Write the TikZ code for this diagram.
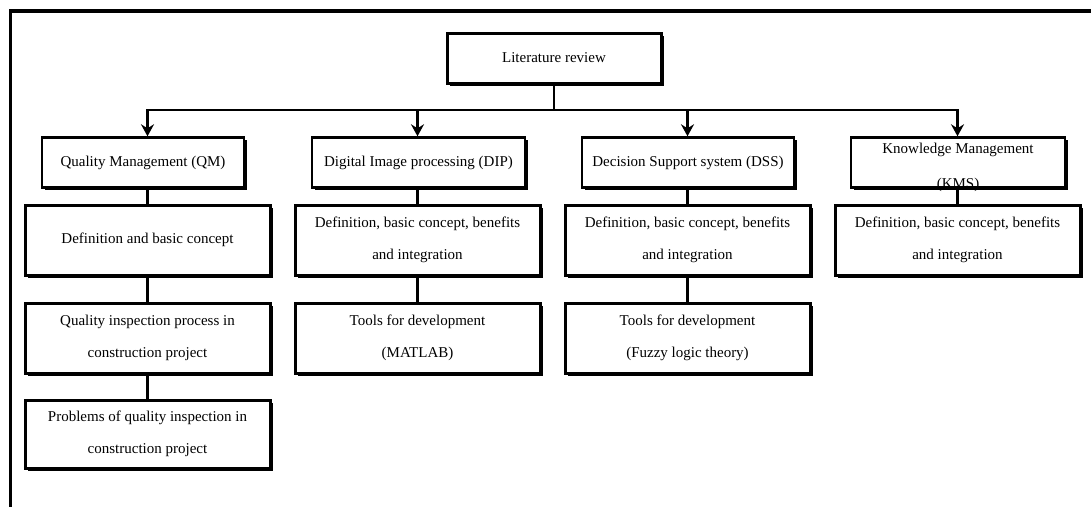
\documentclass[tikz,border=0pt]{standalone}
\usepackage{fontspec}
\setmainfont{Liberation Serif}
\usetikzlibrary{arrows.meta,shadows}
\begin{document}
\begin{tikzpicture}[x=1pt,y=-1pt,
  txt/.style={inner sep=0pt, align=center, font=\fontsize{15pt}{32pt}\selectfont},
  box/.style={txt, draw, line width=3pt, fill=white,
    drop shadow={shadow xshift=2.6pt, shadow yshift=-2.6pt, opacity=1, fill=black}},
  headbox/.style={box, line width=2.4pt, minimum height=50pt},
  subbox/.style={box, minimum width=245pt, minimum height=70pt},
  link/.style={line width=2.3pt},
  arr/.style={link, -{Stealth[length=12pt,width=13pt,inset=4pt]}}
]
\useasboundingbox (0,0) rectangle (1091,507);
% frame (only top and left edges visible)
\draw[line width=3.8pt] (1091,11) -| (10.5,507);

% nodes
\node[box, minimum width=214pt, minimum height=50pt] (lit) at (554,58) {Literature review};

\node[headbox, minimum width=202pt] (qm)  at (143,162.5)   {Quality Management (QM)};
\node[headbox, minimum width=213pt] (dip) at (418.5,162.5) {Digital Image processing (DIP)};
\node[headbox, minimum width=212pt] (dss) at (688,162.5)   {Decision Support system (DSS)};
\node[headbox, minimum width=214pt] (kms) at (958,162.5)   {};
\node[txt, font=\fontsize{15pt}{35pt}\selectfont] (kmstext) at (958,167) {Knowledge Management\\(KMS)};

\node[subbox] (qmdef)  at (147.5,240) {Definition and basic concept};
\node[subbox] (dipdef) at (417.5,240) {Definition, basic concept, benefits\\and integration};
\node[subbox] (dssdef) at (687.5,240) {Definition, basic concept, benefits\\and integration};
\node[subbox] (kmsdef) at (957.5,240) {Definition, basic concept, benefits\\and integration};

\node[subbox] (qmproc)  at (147.5,338) {Quality inspection process in\\construction project};
\node[subbox] (diptool) at (417.5,338) {Tools for development\\(MATLAB)};
\node[subbox] (dsstool) at (687.5,338) {Tools for development\\(Fuzzy logic theory)};

\node[subbox, minimum height=68pt] (qmprob) at (147.5,434) {Problems of quality inspection in\\construction project};

% connectors
\coordinate (hub) at (554,110);
\draw[link] (lit.south) -- (hub);
\draw[arr] (hub) -| (qmdef.north |- qm.north);
\draw[arr] (hub) -| (dipdef.north |- dip.north);
\draw[arr] (hub) -| (dssdef.north |- dss.north);
\draw[arr] (hub) -| (kmsdef.north |- kms.north);

\draw[link] (qmdef.north |- qm.south) -- (qmdef.north);
\draw[link] (dipdef.north |- dip.south) -- (dipdef.north);
\draw[link] (dssdef.north |- dss.south) -- (dssdef.north);
\draw[link] (kmsdef.north |- kms.south) -- (kmsdef.north);

\draw[link] (qmdef) -- (qmproc);
\draw[link] (qmproc) -- (qmprob);
\draw[link] (dipdef) -- (diptool);
\draw[link] (dssdef) -- (dsstool);
\end{tikzpicture}
\end{document}
